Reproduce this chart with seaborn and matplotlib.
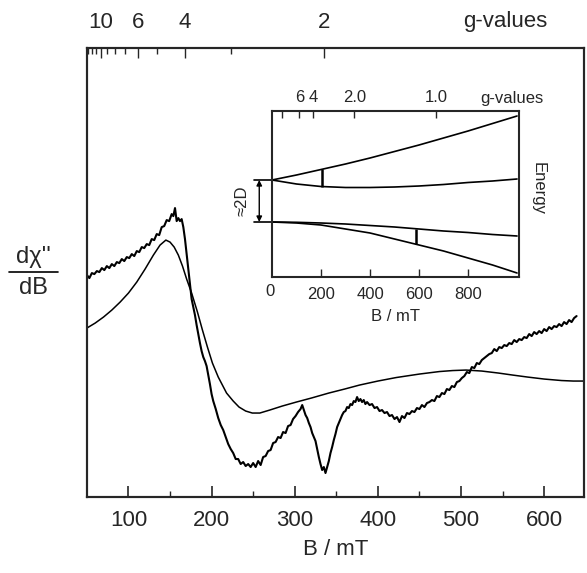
import numpy as np
import pandas as pd
import matplotlib
matplotlib.use("Agg")
import matplotlib.pyplot as plt
import seaborn as sns

# ---------------- data ----------------
# experimental EPR derivative trace (B in mT, signal in arbitrary units)
exp_B = [50, 53, 56, 59, 62, 65, 68, 71, 74, 77, 80, 83, 86, 89, 92, 95, 98, 101, 104, 107,
         110, 113, 116, 119, 122, 125, 128, 131, 134, 137, 140, 143, 146, 149, 152, 154, 156, 158, 160, 162,
         164, 166, 168, 170, 172, 174, 176, 178, 180, 182, 184, 186, 188, 190, 192, 194, 196, 198, 200, 202,
         205, 208, 211, 214, 217, 220, 223, 226, 229, 232, 235, 238, 241, 244, 247, 250, 253, 256, 259, 262,
         265, 268, 271, 274, 277, 280, 283, 286, 289, 292, 295, 298, 301, 304, 307, 309, 311, 313, 315, 317,
         319, 321, 323, 325, 327, 329, 331, 333, 335, 337, 339, 341, 343, 345, 347, 349, 351, 353, 355, 357,
         359, 361, 363, 365, 367, 369, 371, 373, 375, 377, 379, 381, 383, 385, 387, 390, 393, 396, 399, 402,
         405, 408, 411, 414, 417, 420, 423, 426, 429, 432, 435, 438, 441, 444, 447, 450, 453, 456, 459, 462,
         465, 468, 471, 474, 477, 480, 483, 486, 489, 492, 495, 498, 501, 504, 507, 510, 513, 516, 519, 522,
         525, 528, 531, 534, 537, 540, 543, 546, 549, 552, 555, 558, 561, 564, 567, 570, 573, 576, 579, 582,
         585, 588, 591, 594, 597, 600, 603, 606, 609, 612, 615, 618, 621, 624, 627, 630, 633, 636, 639]
exp_S = [222, 219, 224, 223, 226, 225, 229, 227, 231, 229, 233, 231, 235, 234, 238, 236, 240, 239, 243, 241,
         246, 245, 250, 249, 253, 252, 258, 257, 263, 262, 270, 271, 277, 276, 283, 281, 289, 276, 279, 276,
         278, 270, 258, 243, 228, 213, 198, 190, 182, 172, 163, 154, 146, 140, 136, 131, 122, 113, 103, 96,
         88, 79, 72, 67, 60, 53, 48, 44, 38, 38, 33, 35, 31, 33, 30, 34, 30, 36, 32, 40,
         41, 46, 47, 54, 55, 60, 59, 65, 64, 71, 72, 78, 81, 85, 88, 92, 87, 82, 79, 74,
         70, 64, 60, 56, 48, 40, 33, 27, 30, 24, 30, 36, 44, 50, 57, 63, 70, 74, 78, 82,
         85, 86, 90, 89, 93, 92, 96, 95, 100, 96, 98, 95, 97, 93, 95, 92, 93, 89, 90, 86,
         87, 84, 85, 81, 82, 78, 80, 75, 81, 79, 84, 83, 86, 85, 89, 88, 92, 90, 94, 95,
         97, 96, 101, 100, 104, 103, 108, 107, 111, 110, 115, 116, 119, 121, 125, 124, 130, 129, 134, 133,
         137, 139, 141, 143, 144, 148, 146, 150, 149, 152, 151, 154, 153, 157, 155, 158, 157, 160, 159, 163,
         161, 165, 163, 166, 164, 168, 166, 170, 168, 171, 170, 173, 171, 175, 173, 177, 175, 179, 181]

# simulated spectrum
sim_B = [50, 60, 70, 80, 90, 100, 110, 120, 130, 138, 145, 150, 155, 160, 165, 170, 176, 183, 189, 195,
         201, 208, 218, 226, 233, 241, 249, 258, 270, 285, 302, 320, 341, 360, 378, 400, 422, 450, 474, 490,
         506, 525, 545, 562, 580, 600, 621, 635, 648]
sim_S = [169, 174, 180, 187, 195, 204, 215, 228, 242, 252, 257, 255, 250, 242, 231, 218, 204, 185, 167, 150,
         134, 120, 104, 96, 90, 86, 84, 84, 87, 91, 95, 99, 104, 108, 112, 116, 119.5, 123, 125.5, 126.5,
         127, 126, 124, 122, 120, 118, 116.5, 116, 116]

# inset: energy levels vs field
lev_B = [0, 100, 200, 300, 400, 500, 600, 700, 800, 900, 1000]
lev_A = [70, 75, 80.5, 86, 92, 98.5, 105, 112, 119, 126.5, 134]
lev_Bv = [70, 66, 63.5, 62.5, 62.5, 63, 64, 65.5, 67.5, 69, 71]
lev_C = [28, 27.7, 27, 26, 24.5, 23, 21, 19, 17.5, 15.5, 14]
lev_D = [28, 27, 25, 21, 17, 11, 5, -1, -8, -15, -23]
trans_B = [204, 588]
trans_lo = [63.5, 5.7]
trans_hi = [81, 21.2]

main_xticks = [100, 200, 300, 400, 500, 600]
main_xminor = [150, 250, 350, 450, 550]
main_g_major = [10, 6, 4, 2]
main_g_minor = [13, 12, 11, 9, 8, 7, 5, 3]
inset_xticks = [200, 400, 600, 800]
inset_g_major = [6, 4, 2, 1]
inset_g_labels = ["6", "4", "2.0", "1.0"]
inset_g_minor = [17]
HNU = 671.0  # mT, field for g = 1

# ---------------- style ----------------
sns.set_style("white")
plt.rcParams["font.family"] = ["Liberation Sans", "DejaVu Sans"]
plt.rcParams["axes.linewidth"] = 1.5

fig = plt.figure(figsize=(5.87, 5.73), dpi=100)
ax = fig.add_axes([0.148, 0.1326, 0.847, 0.7834])

df_exp = pd.DataFrame({"B": exp_B, "S": exp_S})
df_sim = pd.DataFrame({"B": sim_B, "S": sim_S})
sns.lineplot(data=df_exp, x="B", y="S", ax=ax, color="black", lw=1.5, sort=False, estimator=None)
sns.lineplot(data=df_sim, x="B", y="S", ax=ax, color="black", lw=1.1, sort=False, estimator=None)

ax.set_xlim(50, 648)
ax.set_ylim(0, 449)
ax.set_yticks([])
ax.set_xticks(main_xticks)
ax.set_xticks(main_xminor, minor=True)
ax.tick_params(axis="x", which="major", direction="in", length=8, width=1.2,
               labelsize=16, pad=9, bottom=True, top=False)
ax.tick_params(axis="x", which="minor", direction="in", length=4, width=1.0,
               bottom=True, top=False)
ax.set_xlabel("B / mT", fontsize=16, labelpad=6)
ax.set_ylabel("")
for s in ax.spines.values():
    s.set_color("black")
    s.set_linewidth(1.5)

axt = ax.twiny()
axt.set_xlim(ax.get_xlim())
axt.set_xticks([HNU / g for g in main_g_major])
axt.set_xticklabels([str(g) for g in main_g_major])
axt.set_xticks([HNU / g for g in main_g_minor], minor=True)
axt.tick_params(axis="x", which="major", direction="in", length=7, width=1.0,
                labelsize=16, pad=11, top=True, bottom=False)
axt.tick_params(axis="x", which="minor", direction="in", length=4, width=1.0,
                top=True, bottom=False)
axt.set_yticks([])
fig.text(505 / 587, 1 - 22 / 573, "g-values", fontsize=16, ha="center", va="center")

# y label as a fraction
fig.text(33 / 587, 1 - 257 / 573, "d\u03c7''", fontsize=17, ha="center", va="center")
fig.text(33 / 587, 1 - 288 / 573, "dB", fontsize=17, ha="center", va="center")
fig.add_artist(plt.Line2D([9 / 587, 58 / 587], [1 - 272 / 573, 1 - 272 / 573],
                          color="black", lw=1.2))

# ---------------- inset ----------------
ins = fig.add_axes([272 / 587, 1 - 277 / 573, 247 / 587, 166 / 573])
for lev in (lev_A, lev_Bv, lev_C, lev_D):
    sns.lineplot(x=lev_B, y=lev, ax=ins, color="black", lw=1.2, sort=False, estimator=None)
ins.vlines(trans_B, trans_lo, trans_hi, color="black", lw=1.8)
ins.set_xlim(0, 1008)
ins.set_ylim(-27, 139)
ins.set_yticks([])
ins.set_xticks(inset_xticks)
ins.set_xticks([], minor=True)
ins.set_xticklabels([str(v) for v in inset_xticks])
ins.tick_params(axis="x", direction="in", length=6, width=1.0, labelsize=12, pad=7,
                bottom=True, top=False)
ins.set_xlabel("B / mT", fontsize=12, labelpad=5)
ins.set_ylabel("")
for s in ins.spines.values():
    s.set_color("black")
    s.set_linewidth(1.4)
fig.text(270 / 587, 1 - 291 / 573, "0", fontsize=12, ha="center", va="center")

inst = ins.twiny()
inst.set_xlim(ins.get_xlim())
inst.set_xticks([HNU / g for g in inset_g_major])
inst.set_xticklabels(inset_g_labels)
inst.set_xticks([HNU / g for g in inset_g_minor], minor=True)
inst.tick_params(axis="x", which="major", direction="in", length=5, width=1.0,
                 labelsize=12, pad=4, top=True, bottom=False)
inst.tick_params(axis="x", which="minor", direction="in", length=5, width=1.0,
                 top=True, bottom=False)
inst.set_yticks([])
fig.text(512 / 587, 1 - 99 / 573, "g-values", fontsize=12, ha="center", va="center")

# zero-field splitting marker
for e in (lev_A[0], lev_C[0]):
    ins.plot([-75, 0], [e, e], color="black", lw=1.2, clip_on=False)
ins.annotate("", xy=(-52, lev_A[0]), xytext=(-52, lev_C[0]),
             arrowprops=dict(arrowstyle="<|-|>", color="black", lw=1.0,
                             mutation_scale=8, shrinkA=0, shrinkB=0),
             annotation_clip=False)
fig.text(242 / 587, 1 - 201 / 573, "\u22482D", fontsize=12, rotation=90,
         ha="center", va="center")
fig.text(538 / 587, 1 - 188 / 573, "Energy", fontsize=12, rotation=-90,
         ha="center", va="center")

fig.savefig("out.png", dpi=100, facecolor="white")
